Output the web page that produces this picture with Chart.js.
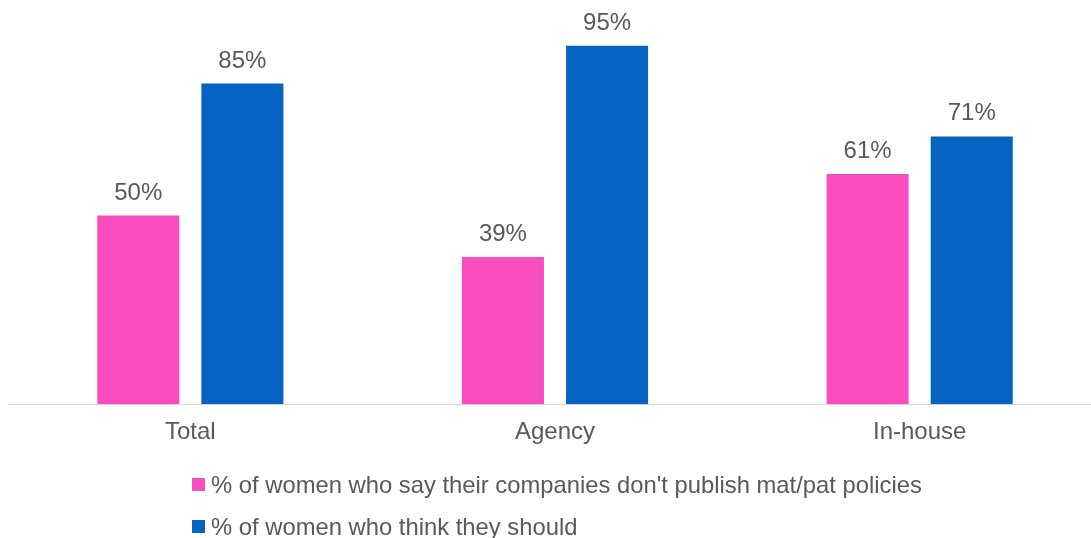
<!DOCTYPE html>
<html>
<head>
<meta charset="utf-8">
<script src="https://cdn.jsdelivr.net/npm/chart.js@4"></script>
<style>
  html, body { margin: 0; padding: 0; background: #fff; overflow: hidden; }
  #wrap { position: relative; width: 1102px; height: 538px; }
</style>
</head>
<body>
<div id="wrap"><canvas id="chart"></canvas></div>
<script>
const categories = ['Total', 'Agency', 'In-house'];
const seriesNames = [
    "% of women who say their companies don't publish mat/pat policies",
    '% of women who think they should'
];
const noPublish = [50, 39, 61];
const thinkShould = [85, 95, 71];

const PINK = '#F74DBF';
const BLUE = '#0563C1';
const TEXT = '#595959';
const FONT = "'Liberation Sans', Arial, sans-serif";

/* ── value labels above bars ───────────────────── */
const barLabels = {
    id: 'barLabels',
    afterDatasetsDraw(chart) {
        const ctx = chart.ctx;
        ctx.save();
        ctx.font = `24px ${FONT}`;
        ctx.fillStyle = TEXT;
        ctx.textAlign = 'center';
        ctx.textBaseline = 'alphabetic';
        chart.data.datasets.forEach((ds, i) => {
            chart.getDatasetMeta(i).data.forEach((bar, j) => {
                ctx.fillText(ds.data[j] + '%', bar.x, bar.y - 16);
            });
        });
        ctx.restore();
    }
};

/* ── legend, two left-aligned rows ─────────────── */
const stackedLegend = {
    id: 'stackedLegend',
    afterDraw(chart) {
        const ctx = chart.ctx;
        ctx.save();
        ctx.font = `23.8px ${FONT}`;
        ctx.textAlign = 'left';
        ctx.textBaseline = 'alphabetic';
        chart.data.datasets.forEach((ds, i) => {
            const top = 478 + i * 42;
            ctx.fillStyle = ds.backgroundColor;
            ctx.fillRect(192, top, 13, 13);
            ctx.fillStyle = TEXT;
            ctx.fillText(ds.label, 211, top + 15);
        });
        ctx.restore();
    }
};

new Chart(document.getElementById('chart').getContext('2d'), {
    type: 'bar',
    data: {
        labels: categories,
        datasets: [
            { label: seriesNames[0], data: noPublish, backgroundColor: PINK },
            { label: seriesNames[1], data: thinkShould, backgroundColor: BLUE }
        ]
    },
    options: {
        responsive: true,
        maintainAspectRatio: false,
        animation: false,
        categoryPercentage: 0.571,
        barPercentage: 0.788,
        layout: { padding: { top: 27, left: 8, right: 0, bottom: 77 } },
        plugins: {
            legend: { display: false },
            tooltip: { enabled: false }
        },
        scales: {
            x: {
                grid: { display: false, drawTicks: false },
                border: { display: true, color: '#D9D9D9', width: 1 },
                ticks: { color: TEXT, font: { family: FONT, size: 24 }, padding: 14 }
            },
            y: {
                display: false,
                min: 0,
                max: 100
            }
        }
    },
    plugins: [barLabels, stackedLegend]
});
</script>
</body>
</html>
